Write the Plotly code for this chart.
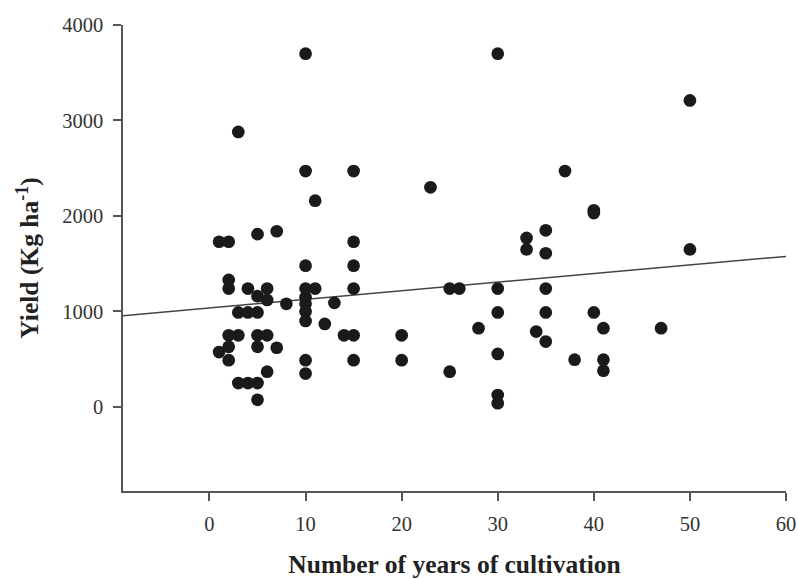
import plotly.graph_objects as go

# Years of cultivation and corresponding yield (Kg/ha) per surveyed farm
years = [
    1, 2, 5, 7, 3, 10, 30, 10, 15, 11, 15, 10, 15,
    2, 2, 4, 6, 10, 11, 15, 5, 6, 8, 13,
    10, 10, 10, 10, 3, 4, 5, 12,
    2, 3, 5, 6, 14, 15, 2, 1, 2, 5, 7,
    6, 10, 10, 15, 3, 4, 5, 5,
    23, 37, 40, 40, 35, 33, 33, 35,
    25, 26, 30, 35, 30, 35, 40,
    28, 34, 35, 41, 20, 20, 30, 38, 41, 41, 25,
    30, 30, 50, 50, 47,
]
yield_kg = [
    1730, 1730, 1810, 1840, 2880, 3700, 3700, 2470, 2470, 2160, 1730, 1480, 1480,
    1330, 1240, 1240, 1240, 1240, 1240, 1240, 1160, 1120, 1080, 1090,
    1150, 1080, 1000, 900, 990, 990, 990, 870,
    750, 750, 750, 750, 750, 750, 630, 575, 490, 630, 620,
    370, 490, 350, 490, 250, 250, 250, 75,
    2300, 2470, 2060, 2030, 1850, 1770, 1650, 1610,
    1240, 1240, 1240, 1240, 990, 990, 990,
    825, 790, 685, 825, 750, 490, 555, 495, 495, 380, 370,
    125, 40, 3210, 1650, 825,
]

# Linear trend: yield = intercept + slope * years
fit_intercept = 1037
fit_slope = 9.0
fit_x = [-9, 60]
fit_y = [fit_intercept + fit_slope * v for v in fit_x]

x_ticks = [0, 10, 20, 30, 40, 50, 60]
y_ticks = [0, 1000, 2000, 3000, 4000]

serif = "Liberation Serif, Times New Roman, serif"
axis_col = "#555555"
tick_font = dict(family=serif, size=20.5, color="#333333")
title_font = dict(family=serif, size=25.5, color="#222222")

fig = go.Figure()
fig.add_trace(go.Scatter(
    x=fit_x, y=fit_y, mode="lines",
    line=dict(color="#444444", width=1.5),
    showlegend=False, hoverinfo="skip",
))
fig.add_trace(go.Scatter(
    x=years, y=yield_kg, mode="markers",
    marker=dict(color="#1a1a1a", size=12.7, line=dict(width=0)),
    showlegend=False,
))

fig.update_layout(
    width=798, height=579,
    margin=dict(l=123, r=12, t=25, b=88),
    paper_bgcolor="white", plot_bgcolor="white",
    font=dict(family=serif, color="#333333", size=20),
)
fig.update_xaxes(
    range=[-9, 60], tickvals=x_ticks, automargin=False,
    showline=True, linecolor=axis_col, linewidth=1.5,
    ticks="outside", ticklen=8, tickcolor=axis_col, tickwidth=1.5,
    ticklabelstandoff=6,
    showgrid=False, zeroline=False, tickfont=tick_font,
    title=dict(text="<b>Number of years of cultivation</b>",
               font=title_font, standoff=24),
)
fig.update_yaxes(
    range=[-880, 4000], tickvals=y_ticks, automargin=False,
    showline=True, linecolor=axis_col, linewidth=1.5,
    ticks="outside", ticklen=8, tickcolor=axis_col, tickwidth=1.5,
    ticklabelstandoff=6,
    showgrid=False, zeroline=False, tickfont=tick_font,
    title=dict(text="<b>Yield (Kg ha<sup>-1</sup>)</b>",
               font=title_font, standoff=16),
)

fig.write_html("out.html")
